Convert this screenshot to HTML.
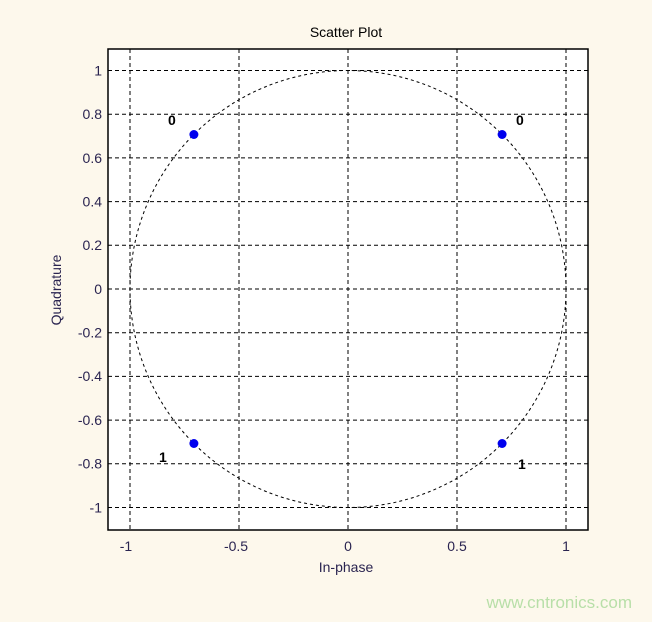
<!DOCTYPE html>
<html><head><style>
body{margin:0;background:#fdf8ec;}
</style></head><body>
<svg width="652" height="617" xmlns="http://www.w3.org/2000/svg" font-family="Liberation Sans, sans-serif">
<rect width="652" height="617" fill="#fdf8ec"/>
<rect x="108" y="49" width="480" height="481" fill="#fff" stroke="#000" stroke-width="1.5"/>
<g stroke="#000" stroke-width="1" stroke-dasharray="4,3">
<line x1="130" y1="49" x2="130" y2="530"/>
<line x1="239" y1="49" x2="239" y2="530"/>
<line x1="348" y1="49" x2="348" y2="530"/>
<line x1="457" y1="49" x2="457" y2="530"/>
<line x1="566" y1="49" x2="566" y2="530"/>
<line x1="108" y1="70.5" x2="588" y2="70.5"/>
<line x1="108" y1="114.2" x2="588" y2="114.2"/>
<line x1="108" y1="157.9" x2="588" y2="157.9"/>
<line x1="108" y1="201.6" x2="588" y2="201.6"/>
<line x1="108" y1="245.3" x2="588" y2="245.3"/>
<line x1="108" y1="289" x2="588" y2="289"/>
<line x1="108" y1="332.7" x2="588" y2="332.7"/>
<line x1="108" y1="376.4" x2="588" y2="376.4"/>
<line x1="108" y1="420.1" x2="588" y2="420.1"/>
<line x1="108" y1="463.8" x2="588" y2="463.8"/>
<line x1="108" y1="507.5" x2="588" y2="507.5"/>
</g>
<ellipse cx="348" cy="289" rx="218" ry="218.5" fill="none" stroke="#000" stroke-width="1" stroke-dasharray="3,3"/>
<g fill="#0000ee">
<circle cx="193.9" cy="134.5" r="4.5"/>
<circle cx="502.1" cy="134.5" r="4.5"/>
<circle cx="193.9" cy="443.5" r="4.5"/>
<circle cx="502.1" cy="443.5" r="4.5"/>
</g>
<g font-size="14" font-weight="bold" fill="#000">
<text x="168" y="125">0</text>
<text x="516" y="125">0</text>
<text x="159" y="462">1</text>
<text x="518" y="469">1</text>
</g>
<g font-size="14" fill="#2a2450" text-anchor="end">
<text x="102" y="75.5">1</text>
<text x="102" y="119">0.8</text>
<text x="102" y="163">0.6</text>
<text x="102" y="206.5">0.4</text>
<text x="102" y="250">0.2</text>
<text x="102" y="294">0</text>
<text x="102" y="337.5">-0.2</text>
<text x="102" y="381">-0.4</text>
<text x="102" y="425">-0.6</text>
<text x="102" y="468.5">-0.8</text>
<text x="102" y="512.5">-1</text>
</g>
<g font-size="14" fill="#2a2450" text-anchor="middle">
<text x="126" y="551">-1</text>
<text x="236" y="551">-0.5</text>
<text x="348" y="551">0</text>
<text x="457" y="551">0.5</text>
<text x="566" y="551">1</text>
<text x="346" y="572">In-phase</text>
<text x="346" y="37" fill="#000">Scatter Plot</text>
<text transform="translate(61,290) rotate(-90)">Quadrature</text>
</g>
<text x="632" y="608" font-size="17" fill="#b8dfa8" text-anchor="end">www.cntronics.com</text>
</svg>
</body></html>
